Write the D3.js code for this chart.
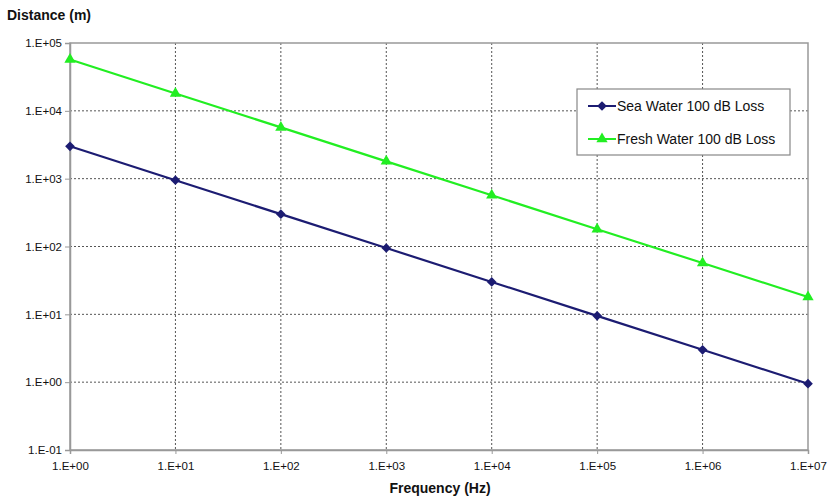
<!DOCTYPE html>
<html><head><meta charset="utf-8">
<script src="https://cdn.jsdelivr.net/npm/d3@7"></script>
<style>body{margin:0;background:#fff}svg{display:block}text{font-family:"Liberation Sans",Arial,sans-serif}</style>
</head><body>
<svg id="c" width="829" height="500"></svg>
<script>
const frequencies = [1e0, 1e1, 1e2, 1e3, 1e4, 1e5, 1e6, 1e7];
const seaWater = [3000, 950, 300, 95, 30, 9.5, 3.0, 0.95];
const freshWater = [57000, 18000, 5700, 1800, 570, 180, 57, 18];
const xTicks = [1e0, 1e1, 1e2, 1e3, 1e4, 1e5, 1e6, 1e7];
const xTickLabels = ["1.E+00","1.E+01","1.E+02","1.E+03","1.E+04","1.E+05","1.E+06","1.E+07"];
const yTicks = [1e-1, 1e0, 1e1, 1e2, 1e3, 1e4, 1e5];
const yTickLabels = ["1.E-01","1.E+00","1.E+01","1.E+02","1.E+03","1.E+04","1.E+05"];
const seriesNames = ["Sea Water 100 dB Loss", "Fresh Water 100 dB Loss"];

const svg = d3.select("#c");
const L = 70, R = 808, T = 43, B = 450;
const x = d3.scaleLog().domain([1e0, 1e7]).range([L, R]);
const y = d3.scaleLog().domain([1e-1, 1e5]).range([B, T]);

// grid
const g = svg.append("g");
g.selectAll("line.h").data(yTicks.slice(1, -1)).join("line")
  .attr("x1", L).attr("x2", R).attr("y1", d => y(d)).attr("y2", d => y(d))
  .attr("stroke", "#555").attr("stroke-width", 1).attr("stroke-dasharray", "2,2");
g.selectAll("line.v").data(xTicks.slice(1, -1)).join("line")
  .attr("y1", T).attr("y2", B).attr("x1", d => x(d)).attr("x2", d => x(d))
  .attr("stroke", "#555").attr("stroke-width", 1).attr("stroke-dasharray", "2,2");

// frame
svg.append("rect").attr("x", L).attr("y", T).attr("width", R - L).attr("height", B - T)
  .attr("fill", "none").attr("stroke", "#999").attr("stroke-width", 1.5);

// axes
const yAxis = d3.axisLeft(y).tickValues(yTicks).tickFormat((d, i) => yTickLabels[i]).tickSize(5).tickPadding(3);
const ya = svg.append("g").attr("transform", `translate(${L},0)`).call(yAxis);
const xAxis = d3.axisBottom(x).tickValues(xTicks).tickFormat((d, i) => xTickLabels[i]).tickSize(4).tickPadding(8);
const xa = svg.append("g").attr("transform", `translate(0,${B})`).call(xAxis);
[ya, xa].forEach(a => {
  a.select(".domain").attr("stroke", "#999").attr("stroke-width", 1.5);
  a.selectAll(".tick line").attr("stroke", "#999");
  a.selectAll(".tick text").attr("font-size", 11.5).attr("fill", "#111")
    .attr("font-family", '"Liberation Sans",Arial,sans-serif');
});

// lines
const line = d3.line().x((d, i) => x(frequencies[i])).y(d => y(d));
const colors = ["#1c1c72", "#22ee22"];
svg.append("path").datum(seaWater).attr("d", line).attr("fill", "none").attr("stroke", colors[0]).attr("stroke-width", 2.2);
svg.append("path").datum(freshWater).attr("d", line).attr("fill", "none").attr("stroke", colors[1]).attr("stroke-width", 2.2);

const diamond = d3.symbol().type(d3.symbolDiamond2).size(60);
const tri = d3.symbol().type(d3.symbolTriangle).size(55);
svg.selectAll("path.sea").data(seaWater).join("path")
  .attr("transform", (d, i) => `translate(${x(frequencies[i])},${y(d)})`)
  .attr("d", diamond()).attr("fill", colors[0]);
svg.selectAll("path.fresh").data(freshWater).join("path")
  .attr("transform", (d, i) => `translate(${x(frequencies[i])},${y(d)})`)
  .attr("d", tri()).attr("fill", colors[1]);

// legend
const lg = svg.append("g");
lg.append("rect").attr("x", 577).attr("y", 89).attr("width", 213).attr("height", 66)
  .attr("fill", "#fff").attr("stroke", "#888").attr("stroke-width", 1.2);
[[106, 0, diamond], [139, 1, tri]].forEach(([yy, i, sym]) => {
  lg.append("line").attr("x1", 588).attr("x2", 616).attr("y1", yy).attr("y2", yy)
    .attr("stroke", colors[i]).attr("stroke-width", 2);
  lg.append("path").attr("transform", `translate(602,${yy})`).attr("d", sym()).attr("fill", colors[i]);
  lg.append("text").attr("x", 617).attr("y", yy + 5).attr("font-size", 14).attr("fill", "#111").text(seriesNames[i]);
});

// titles
svg.append("text").attr("x", 7).attr("y", 20).attr("font-size", 14).attr("font-weight", "bold").attr("fill", "#111").text("Distance (m)");
svg.append("text").attr("x", 440).attr("y", 493).attr("text-anchor", "middle").attr("font-size", 14).attr("font-weight", "bold").attr("fill", "#111").text("Frequency (Hz)");
</script>
</body></html>
